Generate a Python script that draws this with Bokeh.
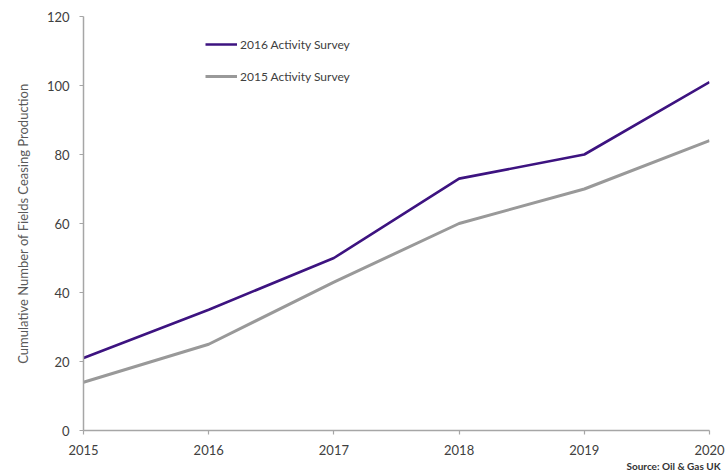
from bokeh.plotting import figure
from bokeh.models import Range1d, FixedTicker, Legend, LegendItem, Title
from bokeh.embed import file_html
from bokeh.resources import INLINE

years = [2015, 2016, 2017, 2018, 2019, 2020]
survey_2016 = [21, 35, 50, 73, 80, 101]
survey_2015 = [14, 25, 43, 60, 70, 84]
y_ticks = [0, 20, 40, 60, 80, 100, 120]
series_names = ["2016 Activity Survey", "2015 Activity Survey"]
source_text = "Source: Oil & Gas UK"
y_title = "Cumulative Number of Fields Ceasing Production"

FONT = "Lato"
AXIS_COLOR = "#A6A6A6"
TEXT_COLOR = "#404040"

p = figure(width=726, height=471, output_backend="svg", toolbar_location=None,
           x_range=Range1d(2015, 2020), y_range=Range1d(0, 120),
           min_border_left=83, min_border_right=17, min_border_top=16, min_border_bottom=0)
p.outline_line_color = None
p.xgrid.visible = False
p.ygrid.visible = False

r1 = p.line(years, survey_2016, line_color="#3D1380", line_width=2.6)
r2 = p.line(years, survey_2015, line_color="#999999", line_width=3)

for ax in (p.xaxis, p.yaxis):
    ax.axis_line_color = AXIS_COLOR
    ax.axis_line_width = 1.5
    ax.major_tick_line_color = AXIS_COLOR
    ax.major_tick_line_width = 1.2
    ax.major_tick_in = 0
    ax.major_tick_out = 4
    ax.minor_tick_line_color = None
    ax.major_label_text_font = FONT
    ax.major_label_text_font_size = "13px"
    ax.major_label_text_color = TEXT_COLOR

p.xaxis.ticker = FixedTicker(ticks=years)
p.yaxis.ticker = FixedTicker(ticks=y_ticks)
p.xaxis.major_label_standoff = 10
p.yaxis.major_label_standoff = 10

ytitle = Title(text=y_title, align="center", offset=-15, standoff=25,
               text_font=FONT, text_font_size="13px", text_font_style="normal",
               text_color="#595959")
p.add_layout(ytitle, "left")

legend = Legend(items=[LegendItem(label=series_names[0], renderers=[r1]),
                       LegendItem(label=series_names[1], renderers=[r2])],
                location=(122, 344), orientation="vertical",
                glyph_width=32, glyph_height=20, label_height=20,
                label_standoff=3, spacing=12, padding=0, margin=0,
                border_line_color=None, background_fill_alpha=0,
                label_text_font=FONT, label_text_font_size="12px",
                label_text_color=TEXT_COLOR)
p.add_layout(legend, "center")

src = Title(text=source_text, align="right", offset=-11, standoff=0,
            text_font=FONT, text_font_size="10px", text_font_style="bold",
            text_color="#333333")
p.add_layout(src, "below")

open("out.html", "w").write(file_html(p, INLINE))
